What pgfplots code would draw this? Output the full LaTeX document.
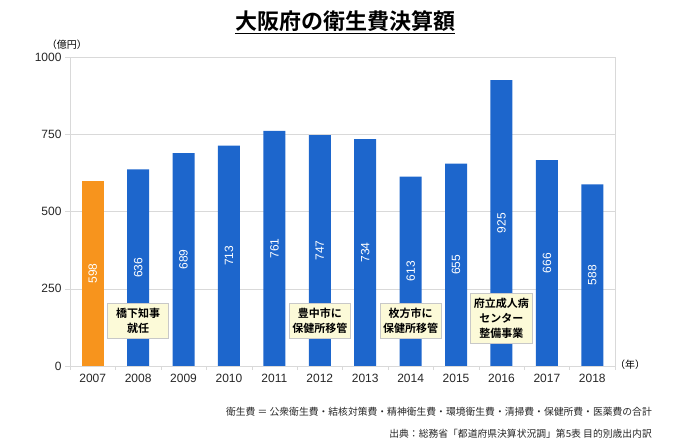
\documentclass[border=0pt]{standalone}
\usepackage{pgfplots}
\pgfplotsset{compat=1.18}
\usepackage{pgfplotstable}
\usepackage{fontspec}
\setmainfont{Liberation Sans}
\newfontfamily\jp[BoldFont={Noto Sans CJK JP Bold}]{Noto Sans CJK JP}
\definecolor{barblue}{RGB}{29,102,204}
\definecolor{barorange}{RGB}{247,148,29}
\definecolor{gridgray}{RGB}{217,217,217}
\definecolor{notefill}{RGB}{252,250,216}
\definecolor{noteline}{RGB}{200,200,200}
\pgfplotstableread{
x year v
0 2007 598
1 2008 636
2 2009 689
3 2010 713
4 2011 761
5 2012 747
6 2013 734
7 2014 613
8 2015 655
9 2016 925
10 2017 666
11 2018 588
}\data
\begin{document}
\begin{tikzpicture}
\useasboundingbox (-70pt,-77pt) rectangle (610pt,366pt);
\begin{axis}[
  scale only axis, width=545pt, height=309pt,
  xmin=-0.5, xmax=11.5, ymin=0, ymax=1000,
  ytick={0,250,500,750,1000},
  xtick={0,...,11},
  xticklabels={2007,2008,2009,2010,2011,2012,2013,2014,2015,2016,2017,2018},
  minor xtick={-0.5,0.5,...,11.5},
  major x tick style={draw=none},
  tick align=outside, tick pos=left,
  major tick length=5pt, minor tick length=4pt,
  ymajorgrids, major grid style={gridgray},
  axis line style={gridgray},
  tick style={gridgray},
  ticklabel style={font=\fontsize{12}{12}\selectfont, color=black!85},
  /pgf/number format/1000 sep={},
  /pgf/number format/assume math mode=true,
  clip=false,
]
\addplot[ybar, bar width=22pt, bar shift=0pt, fill=barorange, draw=none,
  restrict x to domain=-0.1:0.1] table[x=x, y=v] {\data};
\addplot[ybar, bar width=22pt, bar shift=0pt, fill=barblue, draw=none,
  restrict x to domain=0.9:11.1] table[x=x, y=v] {\data};
\addplot[draw=none, mark=none, nodes near coords, point meta=explicit,
  every node near coord/.append style={rotate=90, anchor=center, text=white,
    font=\fontsize{12}{12}\selectfont}]
  table[x=x, y expr=\thisrow{v}/2, meta=v] {\data};
\begin{scope}[every node/.style={draw=noteline, fill=notefill, align=center,
    font=\jp\bfseries\fontsize{11}{15}\selectfont, minimum width=61pt,
    inner ysep=5pt}]
\node at (axis cs:1,146) {橋下知事\\就任};
\node at (axis cs:5,146) {豊中市に\\保健所移管};
\node at (axis cs:7,146) {枚方市に\\保健所移管};
\node at (axis cs:9,154) {府立成人病\\センター\\整備事業};
\end{scope}
\end{axis}
\node[font=\jp\bfseries\fontsize{22}{26}\selectfont] at (275pt,344pt) {\underline{大阪府の衛生費決算額}};
\node[font=\jp\fontsize{10}{12}\selectfont] at (-3pt,321pt) {（億円）};
\node[font=\jp\fontsize{10}{12}\selectfont] at (560pt,1pt) {（年）};
\node[font=\jp\fontsize{9.8}{11}\selectfont, anchor=east, text=black!85, inner sep=0pt] at (582pt,-46pt) {衛生費 ＝ 公衆衛生費・結核対策費・精神衛生費・環境衛生費・清掃費・保健所費・医薬費の合計};
\node[font=\jp\fontsize{9.8}{11}\selectfont, anchor=east, text=black!85, inner sep=0pt] at (582pt,-68pt) {出典：総務省「都道府県決算状況調」第5表 目的別歳出内訳};
\end{tikzpicture}
\end{document}
